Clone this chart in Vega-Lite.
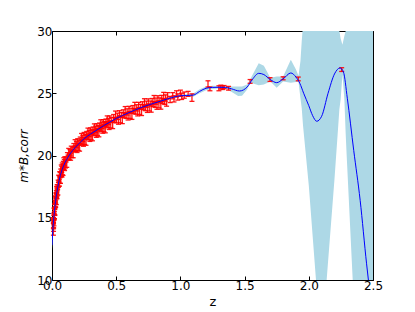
{
"$schema": "https://vega.github.io/schema/vega-lite/v6.json",
"width": 321, "height": 249,
"autosize": {"type": "none"},
"padding": {"left": 52, "top": 31, "right": 42, "bottom": 32},
"background": "white",
"config": {
 "view": {"stroke": null},
 "axis": {"domainColor": "black", "domainWidth": 1, "tickColor": "black", "tickSize": -4, "tickWidth": 1,
  "labelFont": "DejaVu Sans", "labelFontSize": 12, "labelColor": "black", "labelPadding": 4,
  "titleFont": "DejaVu Sans", "titleFontWeight": "normal", "titleColor": "black", "grid": false,
  "labelFlush": false, "labelOverlap": false}
},
"datasets": {
 "band": [
  {"z":0,"lo":12.5,"hi":13.1},{"z":0.01,"lo":14.35,"hi":14.65},{"z":0.02,"lo":15.5,"hi":15.7},{"z":0.03,"lo":16.4,"hi":16.6},
  {"z":0.05,"lo":17.62,"hi":17.78},{"z":0.08,"lo":18.83,"hi":18.97},{"z":0.1,"lo":19.33,"hi":19.47},{"z":0.15,"lo":20.18,"hi":20.32},
  {"z":0.2,"lo":20.78,"hi":20.92},{"z":0.3,"lo":21.65,"hi":21.79},{"z":0.4,"lo":22.31,"hi":22.45},{"z":0.5,"lo":22.91,"hi":23.05},
  {"z":0.6,"lo":23.38,"hi":23.52},{"z":0.7,"lo":23.8,"hi":23.94},{"z":0.8,"lo":24.15,"hi":24.29},{"z":0.9,"lo":24.48,"hi":24.62},
  {"z":1.0,"lo":24.72,"hi":24.88},{"z":1.05,"lo":24.72,"hi":24.92},{"z":1.1,"lo":24.72,"hi":24.98},{"z":1.15,"lo":25.0,"hi":25.32},
  {"z":1.2,"lo":25.25,"hi":25.55},{"z":1.25,"lo":25.35,"hi":25.6},{"z":1.3,"lo":25.38,"hi":25.58},{"z":1.35,"lo":25.37,"hi":25.57},
  {"z":1.4,"lo":25.1,"hi":25.55},{"z":1.45,"lo":24.78,"hi":25.55},{"z":1.48,"lo":24.8,"hi":25.55},{"z":1.52,"lo":25.3,"hi":25.7},
  {"z":1.54,"lo":25.75,"hi":26.05},{"z":1.56,"lo":25.8,"hi":26.45},{"z":1.61,"lo":25.65,"hi":27.4},{"z":1.65,"lo":25.7,"hi":27.2},
  {"z":1.7,"lo":25.95,"hi":26.25},{"z":1.75,"lo":25.45,"hi":26.35},{"z":1.8,"lo":25.95,"hi":26.35},{"z":1.86,"lo":25.85,"hi":27.7},
  {"z":1.9,"lo":25.9,"hi":26.9},{"z":1.92,"lo":25.9,"hi":26.4},{"z":1.935,"lo":24.6,"hi":27.6},{"z":1.945,"lo":23.8,"hi":29.2},
  {"z":1.955,"lo":22.4,"hi":30.5},{"z":2.0,"lo":17.6,"hi":36},{"z":2.056,"lo":10,"hi":40},{"z":2.1,"lo":6,"hi":42},
  {"z":2.139,"lo":10,"hi":40},{"z":2.2,"lo":18.1,"hi":36},{"z":2.23,"lo":22.5,"hi":32},{"z":2.238,"lo":23.7,"hi":30},
  {"z":2.248,"lo":24.5,"hi":29.4},{"z":2.262,"lo":26.5,"hi":28.9},{"z":2.277,"lo":24.5,"hi":29.6},{"z":2.287,"lo":21.8,"hi":30},
  {"z":2.295,"lo":20,"hi":32},{"z":2.342,"lo":10,"hi":38},{"z":2.4,"lo":0,"hi":42},{"z":2.5,"lo":-10,"hi":45}
 ],
 "fit": [
  {"z":0,"m":12.8},{"z":0.005,"m":13.75},{"z":0.01,"m":14.5},{"z":0.02,"m":15.6},{"z":0.03,"m":16.5},{"z":0.04,"m":17.15},
  {"z":0.06,"m":18.2},{"z":0.08,"m":18.9},{"z":0.1,"m":19.4},{"z":0.13,"m":19.95},{"z":0.16,"m":20.4},{"z":0.2,"m":20.85},
  {"z":0.25,"m":21.35},{"z":0.3,"m":21.72},{"z":0.35,"m":22.05},{"z":0.4,"m":22.38},{"z":0.45,"m":22.68},{"z":0.5,"m":22.98},
  {"z":0.55,"m":23.22},{"z":0.6,"m":23.45},{"z":0.65,"m":23.67},{"z":0.7,"m":23.87},{"z":0.75,"m":24.05},{"z":0.8,"m":24.22},
  {"z":0.85,"m":24.38},{"z":0.9,"m":24.55},{"z":0.95,"m":24.7},{"z":1.0,"m":24.8},{"z":1.05,"m":24.82},{"z":1.1,"m":24.85},
  {"z":1.15,"m":25.15},{"z":1.2,"m":25.4},{"z":1.25,"m":25.47},{"z":1.3,"m":25.48},{"z":1.35,"m":25.47},{"z":1.4,"m":25.35},
  {"z":1.46,"m":25.18},{"z":1.52,"m":25.5},{"z":1.56,"m":26.1},{"z":1.61,"m":26.6},{"z":1.65,"m":26.5},{"z":1.7,"m":26.1},
  {"z":1.75,"m":25.85},{"z":1.8,"m":26.15},{"z":1.86,"m":26.63},{"z":1.9,"m":26.3},{"z":1.93,"m":25.8},{"z":1.96,"m":25.0},
  {"z":2.0,"m":24.0},{"z":2.03,"m":23.2},{"z":2.062,"m":22.75},{"z":2.1,"m":23.15},{"z":2.15,"m":25.0},{"z":2.2,"m":26.55},
  {"z":2.243,"m":27.03},{"z":2.27,"m":26.7},{"z":2.3,"m":24.6},{"z":2.35,"m":20.4},{"z":2.4,"m":16.4},{"z":2.45,"m":11.3},{"z":2.5,"m":7.0}
 ],
 "sn": [
  {"z":0.011,"m":13.9,"e":0.3},{"z":0.012,"m":14.2,"e":0.3},{"z":0.015,"m":14.6,"e":0.25},
  {"z":0.010,"m":14.78,"e":0.22},{"z":0.011,"m":14.39,"e":0.28},{"z":0.012,"m":14.80,"e":0.20},{"z":0.013,"m":14.48,"e":0.30},
  {"z":0.014,"m":15.12,"e":0.25},{"z":0.015,"m":15.00,"e":0.20},{"z":0.016,"m":15.48,"e":0.30},{"z":0.017,"m":15.12,"e":0.22},
  {"z":0.018,"m":15.50,"e":0.25},{"z":0.019,"m":15.21,"e":0.28},{"z":0.020,"m":15.88,"e":0.22},{"z":0.021,"m":15.47,"e":0.28},
  {"z":0.022,"m":15.86,"e":0.20},{"z":0.023,"m":15.52,"e":0.30},{"z":0.024,"m":16.14,"e":0.25},{"z":0.025,"m":16.00,"e":0.20},
  {"z":0.026,"m":16.46,"e":0.30},{"z":0.027,"m":16.08,"e":0.22},{"z":0.028,"m":16.44,"e":0.25},{"z":0.029,"m":16.13,"e":0.28},
  {"z":0.030,"m":16.78,"e":0.22},{"z":0.031,"m":16.35,"e":0.28},{"z":0.032,"m":16.71,"e":0.20},{"z":0.033,"m":16.35,"e":0.30},
  {"z":0.034,"m":16.94,"e":0.25},{"z":0.035,"m":16.78,"e":0.20},{"z":0.036,"m":17.21,"e":0.30},{"z":0.037,"m":16.81,"e":0.22},
  {"z":0.038,"m":17.14,"e":0.25},{"z":0.039,"m":16.81,"e":0.28},{"z":0.040,"m":17.43,"e":0.22},{"z":0.042,"m":17.04,"e":0.28},
  {"z":0.044,"m":17.45,"e":0.20},{"z":0.046,"m":17.13,"e":0.30},{"z":0.048,"m":17.77,"e":0.25},{"z":0.050,"m":17.65,"e":0.20},
  {"z":0.052,"m":18.12,"e":0.30},{"z":0.054,"m":17.75,"e":0.22},{"z":0.056,"m":18.12,"e":0.25},{"z":0.058,"m":17.82,"e":0.28},
  {"z":0.060,"m":18.48,"e":0.22},{"z":0.062,"m":18.05,"e":0.28},{"z":0.064,"m":18.42,"e":0.20},{"z":0.066,"m":18.06,"e":0.30},
  {"z":0.068,"m":18.66,"e":0.25},{"z":0.070,"m":18.50,"e":0.20},{"z":0.072,"m":18.94,"e":0.30},{"z":0.074,"m":18.54,"e":0.22},
  {"z":0.076,"m":18.88,"e":0.25},{"z":0.078,"m":18.55,"e":0.28},{"z":0.080,"m":19.18,"e":0.22},{"z":0.082,"m":18.73,"e":0.28},
  {"z":0.084,"m":19.08,"e":0.20},{"z":0.086,"m":18.70,"e":0.30},{"z":0.088,"m":19.28,"e":0.25},{"z":0.090,"m":19.10,"e":0.20},
  {"z":0.092,"m":19.52,"e":0.30},{"z":0.094,"m":19.10,"e":0.22},{"z":0.096,"m":19.42,"e":0.25},{"z":0.098,"m":19.07,"e":0.28},
  {"z":0.100,"m":19.68,"e":0.22},{"z":0.105,"m":19.28,"e":0.28},{"z":0.110,"m":19.68,"e":0.20},{"z":0.115,"m":19.35,"e":0.30},
  {"z":0.120,"m":19.98,"e":0.25},{"z":0.125,"m":19.83,"e":0.20},{"z":0.130,"m":20.27,"e":0.30},{"z":0.135,"m":19.88,"e":0.22},
  {"z":0.140,"m":20.22,"e":0.25},{"z":0.145,"m":19.90,"e":0.28},{"z":0.150,"m":20.53,"e":0.22},{"z":0.155,"m":20.11,"e":0.28},
  {"z":0.160,"m":20.48,"e":0.20},{"z":0.165,"m":20.12,"e":0.30},{"z":0.170,"m":20.71,"e":0.25},{"z":0.175,"m":20.54,"e":0.20},
  {"z":0.180,"m":20.97,"e":0.30},{"z":0.185,"m":20.55,"e":0.22},{"z":0.190,"m":20.87,"e":0.25},{"z":0.195,"m":20.52,"e":0.28},
  {"z":0.200,"m":21.13,"e":0.22},{"z":0.205,"m":20.68,"e":0.28},{"z":0.210,"m":21.03,"e":0.20},{"z":0.215,"m":20.65,"e":0.30},
  {"z":0.220,"m":21.23,"e":0.25},{"z":0.225,"m":21.05,"e":0.20},{"z":0.230,"m":21.47,"e":0.30},{"z":0.235,"m":21.05,"e":0.22},
  {"z":0.240,"m":21.37,"e":0.25},{"z":0.245,"m":21.02,"e":0.28},{"z":0.250,"m":21.63,"e":0.22},{"z":0.255,"m":21.17,"e":0.28},
  {"z":0.260,"m":21.51,"e":0.20},{"z":0.265,"m":21.12,"e":0.30},{"z":0.270,"m":21.68,"e":0.25},{"z":0.275,"m":21.49,"e":0.20},
  {"z":0.280,"m":21.90,"e":0.30},{"z":0.285,"m":21.47,"e":0.22},{"z":0.290,"m":21.77,"e":0.25},{"z":0.295,"m":21.41,"e":0.28},
  {"z":0.300,"m":22.00,"e":0.22},{"z":0.305,"m":21.54,"e":0.28},{"z":0.310,"m":21.87,"e":0.20},{"z":0.315,"m":21.48,"e":0.30},
  {"z":0.320,"m":22.04,"e":0.25},{"z":0.325,"m":21.84,"e":0.20},{"z":0.330,"m":22.24,"e":0.30},{"z":0.335,"m":21.81,"e":0.22},
  {"z":0.340,"m":22.11,"e":0.25},{"z":0.345,"m":21.74,"e":0.28},{"z":0.350,"m":22.33,"e":0.22},{"z":0.355,"m":21.87,"e":0.28},
  {"z":0.360,"m":22.20,"e":0.20},{"z":0.365,"m":21.80,"e":0.30},{"z":0.370,"m":22.36,"e":0.25},{"z":0.375,"m":22.17,"e":0.20},
  {"z":0.380,"m":22.57,"e":0.30},{"z":0.385,"m":22.13,"e":0.22},{"z":0.390,"m":22.43,"e":0.25},{"z":0.395,"m":22.07,"e":0.28},
  {"z":0.400,"m":22.66,"e":0.22},{"z":0.405,"m":22.19,"e":0.28},{"z":0.410,"m":22.52,"e":0.20},{"z":0.415,"m":22.12,"e":0.30},
  {"z":0.420,"m":22.68,"e":0.25},{"z":0.425,"m":22.48,"e":0.20},{"z":0.430,"m":22.88,"e":0.30},{"z":0.435,"m":22.44,"e":0.22},
  {"z":0.440,"m":22.74,"e":0.25},{"z":0.445,"m":22.37,"e":0.28},
  {"z":0.450,"m":22.96,"e":0.22},{"z":0.4575,"m":22.50,"e":0.28},{"z":0.465,"m":22.85,"e":0.20},{"z":0.4725,"m":22.46,"e":0.30},
  {"z":0.480,"m":23.04,"e":0.25},{"z":0.4875,"m":22.85,"e":0.20},{"z":0.495,"m":23.27,"e":0.30},{"z":0.5025,"m":22.84,"e":0.22},
  {"z":0.510,"m":23.15,"e":0.25},{"z":0.5175,"m":22.79,"e":0.28},{"z":0.525,"m":23.38,"e":0.22},{"z":0.5325,"m":22.91,"e":0.28},
  {"z":0.540,"m":23.25,"e":0.20},{"z":0.5475,"m":22.86,"e":0.30},{"z":0.555,"m":23.42,"e":0.25},{"z":0.5625,"m":23.23,"e":0.20},
  {"z":0.570,"m":23.63,"e":0.30},{"z":0.5775,"m":23.20,"e":0.22},{"z":0.585,"m":23.50,"e":0.25},{"z":0.5925,"m":23.13,"e":0.28},
  {"z":0.600,"m":23.73,"e":0.22},{"z":0.6075,"m":23.26,"e":0.28},{"z":0.615,"m":23.60,"e":0.20},{"z":0.6225,"m":23.20,"e":0.30},
  {"z":0.630,"m":23.76,"e":0.25},{"z":0.6375,"m":23.57,"e":0.20},{"z":0.645,"m":23.97,"e":0.30},{"z":0.6525,"m":23.53,"e":0.22},
  {"z":0.660,"m":23.83,"e":0.25},{"z":0.6675,"m":23.46,"e":0.28},{"z":0.675,"m":24.05,"e":0.22},{"z":0.6825,"m":23.58,"e":0.28},
  {"z":0.690,"m":23.91,"e":0.20},{"z":0.6975,"m":23.51,"e":0.30},{"z":0.705,"m":24.07,"e":0.25},{"z":0.7125,"m":23.87,"e":0.20},
  {"z":0.720,"m":24.26,"e":0.30},{"z":0.7275,"m":23.82,"e":0.22},{"z":0.735,"m":24.12,"e":0.25},{"z":0.7425,"m":23.74,"e":0.28},
  {"z":0.750,"m":24.33,"e":0.22},{"z":0.7575,"m":23.86,"e":0.28},{"z":0.765,"m":24.18,"e":0.20},{"z":0.7725,"m":23.78,"e":0.30},
  {"z":0.780,"m":24.33,"e":0.25},{"z":0.7875,"m":24.13,"e":0.20},{"z":0.795,"m":24.52,"e":0.30},{"z":0.8025,"m":24.08,"e":0.22},
  {"z":0.810,"m":24.37,"e":0.25},{"z":0.8175,"m":23.99,"e":0.28},{"z":0.825,"m":24.58,"e":0.22},{"z":0.8325,"m":24.11,"e":0.28},
  {"z":0.840,"m":24.43,"e":0.20},{"z":0.8475,"m":24.02,"e":0.30},{"z":0.855,"m":24.58,"e":0.25},{"z":0.8625,"m":24.37,"e":0.20},
  {"z":0.870,"m":24.77,"e":0.30},{"z":0.8775,"m":24.32,"e":0.22},{"z":0.885,"m":24.62,"e":0.25},{"z":0.8925,"m":24.24,"e":0.28},
  {"z":0.900,"m":24.83,"e":0.22},{"z":0.92,"m":24.5,"e":0.25},{"z":0.94,"m":24.8,"e":0.25},{"z":0.95,"m":24.55,"e":0.25},
  {"z":0.97,"m":24.95,"e":0.25},{"z":0.98,"m":24.7,"e":0.25},{"z":1.0,"m":25.0,"e":0.25},{"z":1.01,"m":24.75,"e":0.25},
  {"z":1.03,"m":24.85,"e":0.25},{"z":1.06,"m":24.95,"e":0.2},{"z":1.09,"m":24.65,"e":0.3},
  {"z":1.215,"m":25.75,"e":0.25},{"z":1.23,"m":25.35,"e":0.15},{"z":1.3,"m":25.4,"e":0.2},{"z":1.315,"m":25.5,"e":0.15},
  {"z":1.33,"m":25.45,"e":0.15},{"z":1.34,"m":25.5,"e":0.12},{"z":1.375,"m":25.4,"e":0.15},{"z":1.543,"m":25.95,"e":0.15},
  {"z":1.698,"m":26.1,"e":0.15},{"z":1.8,"m":26.2,"e":0.12},{"z":1.918,"m":26.15,"e":0.15},{"z":2.256,"m":26.9,"e":0.15}
 ]
},
"layer": [
 {"data": {"name": "band"},
  "mark": {"type": "area", "color": "#ADD8E6", "opacity": 1, "clip": true},
  "encoding": {
   "x": {"field": "z", "type": "quantitative", "scale": {"domain": [0, 2.5], "nice": false, "zero": false},
    "axis": {"orient": "bottom", "values": [0, 0.5, 1, 1.5, 2, 2.5], "format": ".1f", "title": "z", "titleFontSize": 13, "titlePadding": 4}},
   "y": {"field": "lo", "type": "quantitative", "scale": {"domain": [10, 30], "nice": false, "zero": false},
    "axis": {"orient": "left", "values": [10, 15, 20, 25, 30], "format": "d", "title": "m*B,corr", "titleFontStyle": "italic", "titleFontSize": 12, "titlePadding": 6}},
   "y2": {"field": "hi"}
  }},
 {"data": {"name": "sn"},
  "mark": {"type": "errorbar", "ticks": true, "size": 5, "thickness": 1.3, "color": "#ff0000", "opacity": 0.9},
  "encoding": {
   "x": {"field": "z", "type": "quantitative", "axis": null},
   "y": {"field": "m", "type": "quantitative", "axis": null},
   "yError": {"field": "e"}
  }},
 {"data": {"name": "fit"},
  "mark": {"type": "line", "color": "#0000ff", "strokeWidth": 1, "clip": true, "interpolate": "monotone"},
  "encoding": {
   "x": {"field": "z", "type": "quantitative", "axis": {"orient": "top", "values": [0, 0.5, 1, 1.5, 2, 2.5], "labels": false, "title": null}},
   "y": {"field": "m", "type": "quantitative", "axis": {"orient": "right", "values": [10, 15, 20, 25, 30], "labels": false, "title": null}}
  }}
],
"resolve": {"axis": {"x": "independent", "y": "independent"}}
}
